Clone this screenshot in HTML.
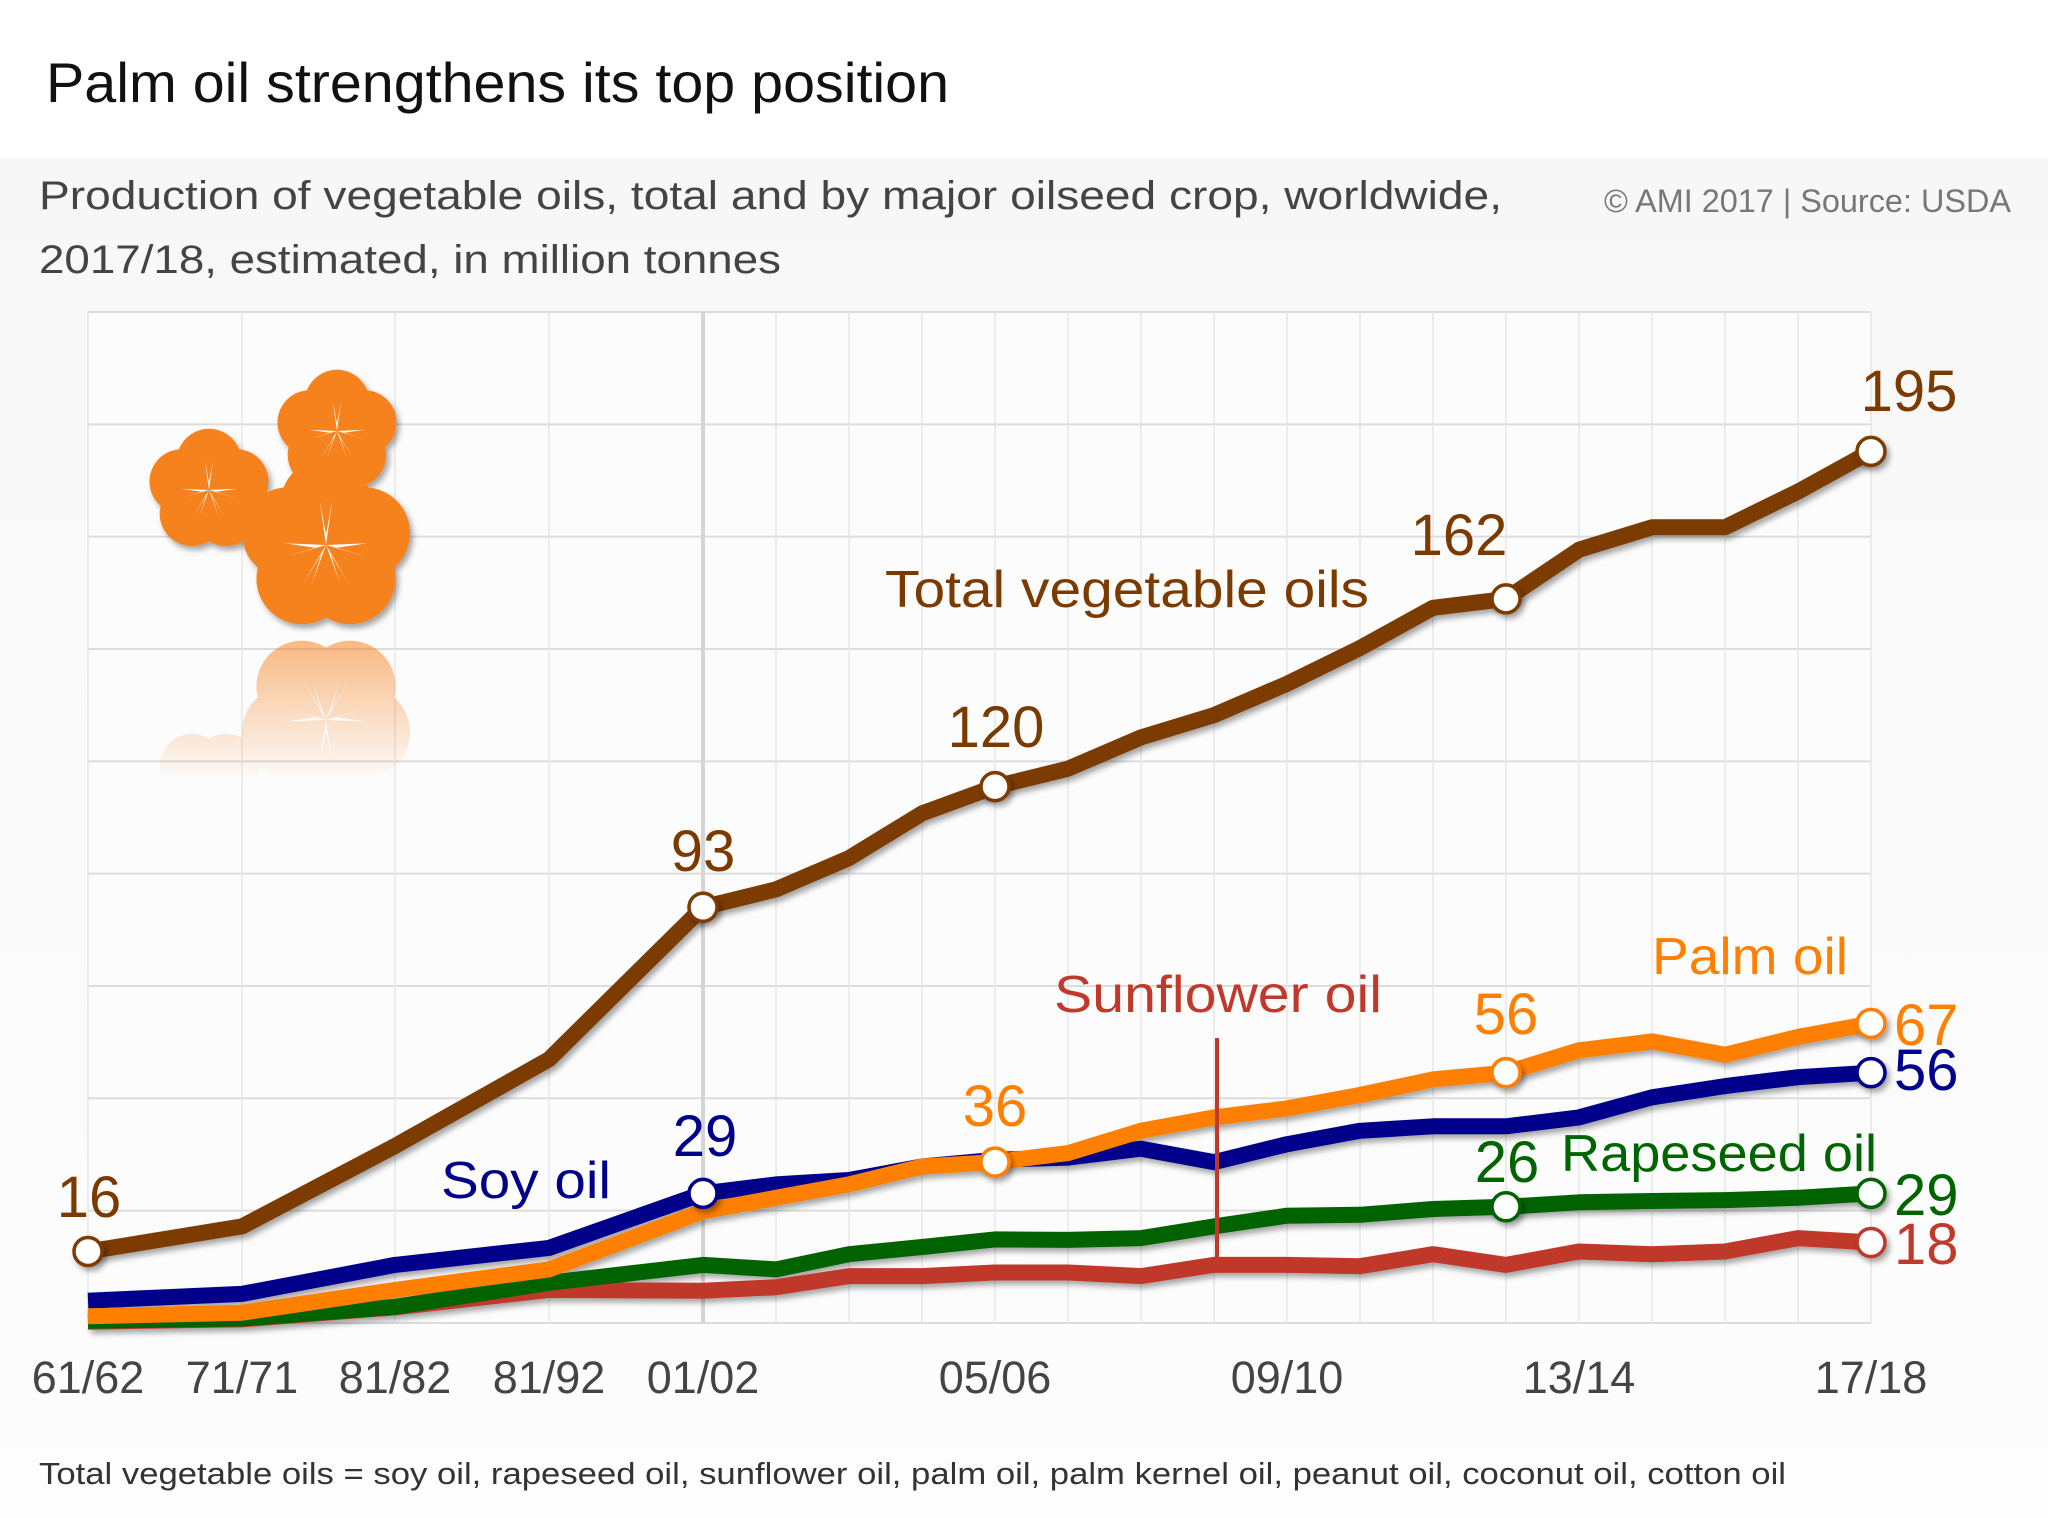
<!DOCTYPE html>
<html><head><meta charset="utf-8"><style>
html,body{margin:0;padding:0;background:#fff}
svg{display:block}
text{font-family:"Liberation Sans",sans-serif}
</style></head><body>
<svg width="2048" height="1518" viewBox="0 0 2048 1518" xmlns="http://www.w3.org/2000/svg">
<defs>
<linearGradient id="bg" x1="0" y1="0" x2="0" y2="1"><stop offset="0" stop-color="#f7f7f7"/><stop offset="1" stop-color="#fdfdfd"/></linearGradient>
<linearGradient id="fade" x1="0" y1="0" x2="0" y2="1"><stop offset="0" stop-color="#fff" stop-opacity="0.6"/><stop offset="1" stop-color="#fff" stop-opacity="0"/></linearGradient>
<mask id="rm"><rect x="100" y="630" width="400" height="150" fill="url(#fade)"/></mask>
<filter id="sh" x="-10%" y="-10%" width="120%" height="130%"><feDropShadow dx="3" dy="4" stdDeviation="3" flood-color="#000" flood-opacity="0.35"/></filter>
<g id="flower">
<circle cx="0" cy="-34" r="38"/><circle cx="32" cy="-10" r="38"/><circle cx="20" cy="28" r="38"/><circle cx="-20" cy="28" r="38"/><circle cx="-32" cy="-10" r="38"/><circle cx="0" cy="0" r="40"/>
</g>
<g id="star" fill="#fff">
<path d="M0 0 L-7 -50 L0 -12 L7 -50Z M0 0 L-48 14 L-12 3 L-46 -2Z M0 0 L48 14 L12 3 L46 -2Z M0 0 L-26 44 L-5 10 L-16 44Z M0 0 L26 44 L5 10 L16 44Z"/>
</g>
</defs>
<rect x="0" y="158" width="2048" height="1360" fill="url(#bg)"/>
<rect x="88" y="312" width="1783" height="1011" fill="#fcfcfc"/>
<g stroke="#dcdcdc" stroke-width="2" id="hg"></g>
<g stroke="#e6e6e6" stroke-width="1.5" id="vg"></g>
<g fill="#f5821f" filter="url(#sh)">
<use href="#flower" transform="translate(209,490) scale(0.85)"/>
<use href="#flower" transform="translate(337,431) scale(0.85)"/>
<use href="#flower" transform="translate(326,545) scale(1.2)"/>
</g>
<use href="#star" transform="translate(209,490) scale(0.6)"/>
<use href="#star" transform="translate(337,431) scale(0.6)"/>
<use href="#star" transform="translate(326,545) scale(0.9)"/>
<g mask="url(#rm)">
<g fill="#f5821f">
<use href="#flower" transform="translate(326,720) scale(1.2,-1.2)"/>
<use href="#flower" transform="translate(209,790) scale(0.85,-0.85)"/>
</g>
<use href="#star" transform="translate(326,720) scale(0.9,-0.9)"/>
</g>
<line x1="703" y1="312" x2="703" y2="1323" stroke="#d5d5d5" stroke-width="4"/>
<g fill="none" stroke-width="16" stroke-linejoin="round" filter="url(#sh)">
<polyline stroke="#c0392b" id="sun" points=""/>
<polyline stroke="#006400" id="rap" points=""/>
<polyline stroke="#00008b" id="soy" points=""/>
<polyline stroke="#ff7f00" id="palm" points=""/>
<polyline stroke="#7b3a00" id="tot" points=""/>
</g>
<line x1="1217" y1="1038" x2="1217" y2="1264" stroke="#c0392b" stroke-width="4"/>
<g stroke-width="3.5" fill="#fff" filter="url(#sh)" id="mk"></g>
<text x="46" y="102" font-size="56" fill="#111" textLength="903" lengthAdjust="spacingAndGlyphs">Palm oil strengthens its top position</text>
<text x="39" y="209" font-size="40" fill="#444" textLength="1463" lengthAdjust="spacingAndGlyphs">Production of vegetable oils, total and by major oilseed crop, worldwide,</text>
<text x="39" y="273" font-size="40" fill="#444" textLength="742" lengthAdjust="spacingAndGlyphs">2017/18, estimated, in million tonnes</text>
<text x="1604" y="212" font-size="32" fill="#777" textLength="407" lengthAdjust="spacingAndGlyphs">© AMI 2017 | Source: USDA</text>
<text x="39" y="1484" font-size="31" fill="#333" textLength="1747" lengthAdjust="spacingAndGlyphs">Total vegetable oils = soy oil, rapeseed oil, sunflower oil, palm oil, palm kernel oil, peanut oil, coconut oil, cotton oil</text>
<g font-size="45" fill="#444" text-anchor="middle">
<text x="88" y="1393">61/62</text><text x="242" y="1393">71/71</text><text x="395" y="1393">81/82</text><text x="549" y="1393">81/92</text><text x="703" y="1393">01/02</text><text x="995" y="1393">05/06</text><text x="1287" y="1393">09/10</text><text x="1579" y="1393">13/14</text><text x="1871" y="1393">17/18</text>
</g>
<g font-size="58" text-anchor="middle">
<text x="89" y="1217" fill="#7b3a00">16</text>
<text x="703" y="871" fill="#7b3a00">93</text>
<text x="996" y="747" fill="#7b3a00">120</text>
<text x="1459" y="555" fill="#7b3a00">162</text>
<text x="1909" y="411" fill="#7b3a00">195</text>
<text x="705" y="1156" fill="#00008b">29</text>
<text x="995" y="1126" fill="#ff7f00">36</text>
<text x="1506" y="1034" fill="#ff7f00">56</text>
<text x="1507" y="1182" fill="#006400">26</text>
</g>
<g font-size="58" text-anchor="start">
<text x="1894" y="1045" fill="#ff7f00">67</text>
<text x="1894" y="1090" fill="#00008b">56</text>
<text x="1894" y="1215" fill="#006400">29</text>
<text x="1894" y="1264" fill="#c0392b">18</text>
</g>
<g font-size="52">
<text x="885" y="607" fill="#7b3a00" textLength="484" lengthAdjust="spacingAndGlyphs">Total vegetable oils</text>
<text x="441" y="1198" fill="#00008b" textLength="170" lengthAdjust="spacingAndGlyphs">Soy oil</text>
<text x="1054" y="1012" fill="#c0392b" textLength="328" lengthAdjust="spacingAndGlyphs">Sunflower oil</text>
<text x="1652" y="974" fill="#ff7f00" textLength="196" lengthAdjust="spacingAndGlyphs">Palm oil</text>
<text x="1561" y="1171" fill="#006400" textLength="316" lengthAdjust="spacingAndGlyphs">Rapeseed oil</text>
</g>
<script>
var xs=[88,242,395,549];for(var i=0;i<=16;i++)xs.push(703+73*i);
function Y(v){return 1323-v*4.47;}
function P(a){return a.map(function(v,i){return xs[i]+','+Y(v).toFixed(1)}).join(' ');}
var D={
tot:[16,21.6,39.6,59,93,97,104,114,120,124,131,136,143,151,160,162,173,178,178,186,195],
palm:[1.5,2.3,7.4,12,25,28,31,35,36,38,43,46,48,51,54.5,56,61,63,60,64,67],
soy:[5,6.5,13,16.8,29,31,32,35,36.5,37,39,36,40,43,44,44,46,50.5,53,55,56],
rap:[0.5,1,3.6,9,13,12,15.4,17,18.7,18.6,19,21.6,24,24.2,25.5,26,27,27.3,27.5,28,29],
sun:[0.3,0.8,3.5,7.4,7.2,8,10.5,10.5,11.3,11.3,10.5,13,13,12.7,15.4,13,16,15.4,16,19,18]};
for(var k in D)document.getElementById(k).setAttribute('points',P(D[k]));
var ns='http://www.w3.org/2000/svg';
function L(g,x1,y1,x2,y2){var l=document.createElementNS(ns,'line');l.setAttribute('x1',x1);l.setAttribute('x2',x2);l.setAttribute('y1',y1);l.setAttribute('y2',y2);g.appendChild(l);}
var vg=document.getElementById('vg'),hg=document.getElementById('hg');
xs.forEach(function(x){L(vg,x,312,x,1323);});
for(var j=0;j<10;j++){var y=312+112.33*j;L(hg,88,y,1871,y);}
var mk=document.getElementById('mk');
[['tot',[0,4,8,15,20],'#7b3a00'],['soy',[4,20],'#00008b'],['palm',[8,15,20],'#ff7f00'],['rap',[15,20],'#006400'],['sun',[20],'#c0392b']].forEach(function(s){
s[1].forEach(function(i){var c=document.createElementNS(ns,'circle');c.setAttribute('cx',xs[i]);c.setAttribute('cy',Y(D[s[0]][i]));c.setAttribute('r',14);c.setAttribute('stroke',s[2]);mk.appendChild(c);});});
</script>
</svg>
</body></html>
